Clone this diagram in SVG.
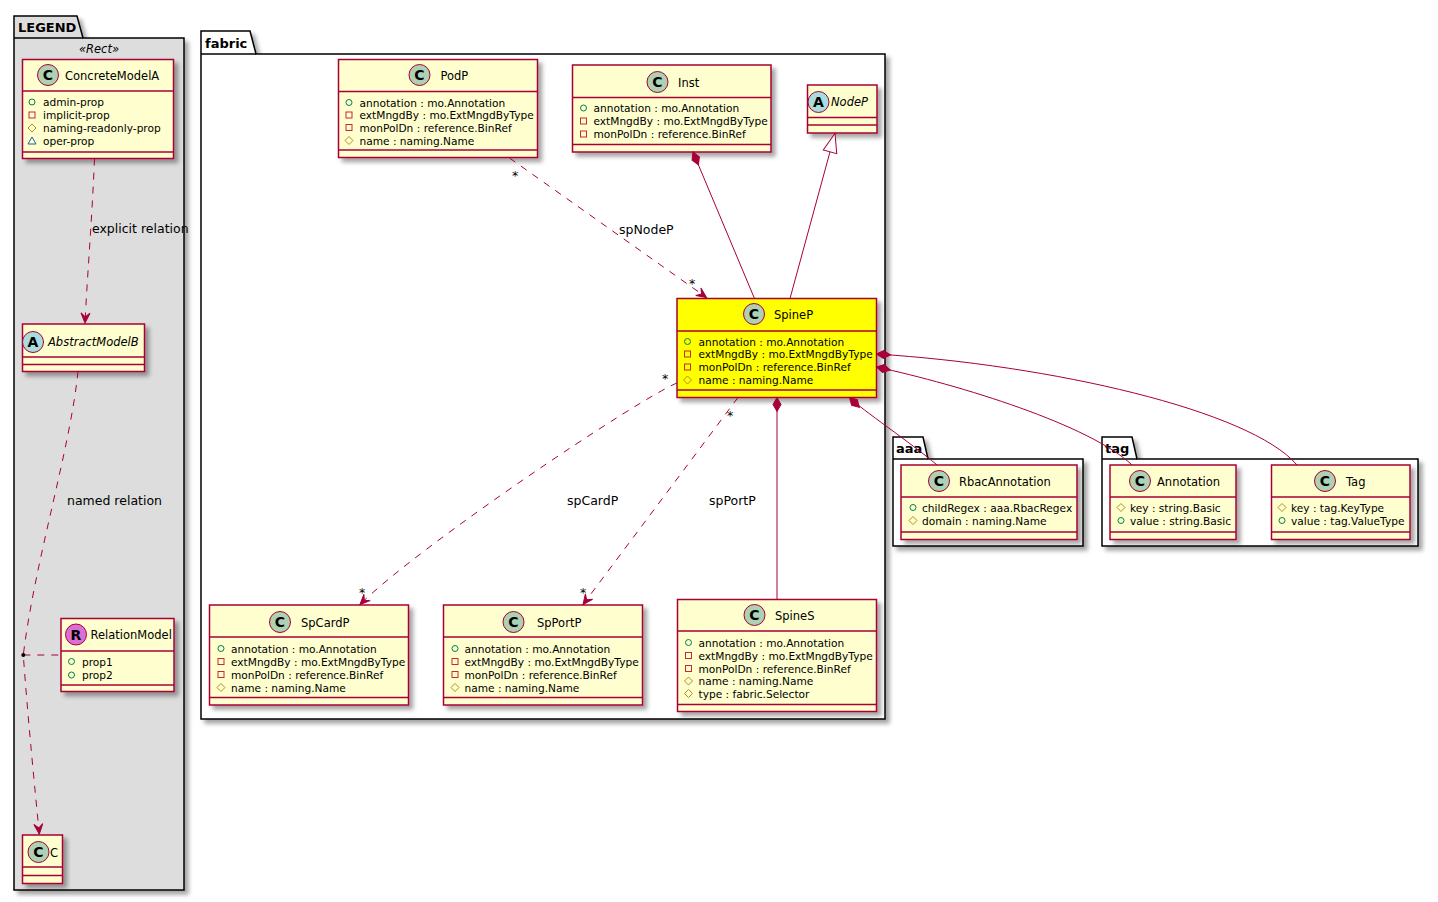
<svg xmlns="http://www.w3.org/2000/svg" xmlns:xlink="http://www.w3.org/1999/xlink" width="1438" height="902" viewBox="0 0 1438 902">
<defs>
<style>
text{font-family:"DejaVu Sans","Liberation Sans",sans-serif;fill:#000}
.box{fill:#FEFECE;stroke:#A80036;stroke-width:1.5}
.hl{fill:#FFFF00}
.sep{stroke:#A80036;stroke-width:1.5}
.spC{fill:#ADD1B2;stroke:#A80036;stroke-width:1}
.spA{fill:#A9DCDF;stroke:#A80036;stroke-width:1}
.spR{fill:#DA70D6;stroke:#A80036;stroke-width:1}
.spot{font-weight:bold;font-size:14px;text-anchor:middle}
.n{font-size:11.5px}
.i{font-style:italic}
.a{font-size:10.6px}
.lbl{font-size:12.5px}
.star{font-size:12.5px;text-anchor:middle}
.pk{font-weight:bold;font-size:13px}
.pkg{fill:#FFFFFF;stroke:#000;stroke-width:1.5}
.lg{fill:#DDDDDD}
.ln{fill:none;stroke:#A80036;stroke-width:1}
.d{stroke-dasharray:7,7}
</style>
<filter id="sh" x="-10%" y="-10%" width="130%" height="130%">
<feDropShadow dx="4" dy="4" stdDeviation="2" flood-color="#000" flood-opacity="0.35"/>
</filter>
<g id="pub"><circle r="3" fill="none" stroke="#038048" stroke-width="1"/></g>
<g id="priv"><rect x="-3" y="-3" width="6" height="6" fill="none" stroke="#C82930" stroke-width="1"/></g>
<g id="prot"><polygon points="0,-4 4,0 0,4 -4,0" fill="none" stroke="#B38D22" stroke-width="1"/></g>
<g id="pkgv"><polygon points="0,-4 4,3 -4,3" fill="none" stroke="#1963A0" stroke-width="1"/></g>
<marker id="arr" markerUnits="userSpaceOnUse" orient="auto" overflow="visible" refX="0" refY="0" markerWidth="12" markerHeight="12">
<path d="M0,0 L-10,-4.5 L-6,0 L-10,4.5 Z" fill="#A80036" stroke="#A80036" stroke-width="1" stroke-linejoin="miter"/>
</marker>
<marker id="dia" markerUnits="userSpaceOnUse" orient="auto" overflow="visible" refX="0" refY="0" markerWidth="16" markerHeight="10">
<path d="M0,0 L7,-4 L14,0 L7,4 Z" fill="#A80036" stroke="#A80036" stroke-width="1"/>
</marker>
<marker id="tri" markerUnits="userSpaceOnUse" orient="auto" overflow="visible" refX="0" refY="0" markerWidth="20" markerHeight="16">
<path d="M0,0 L-19,-7 L-19,7 Z" fill="#FFFFFF" stroke="#A80036" stroke-width="1"/>
</marker>
</defs>
<rect x="0" y="0" width="1438" height="902" fill="#FFFFFF"/>

<!-- packages -->
<g id="pkg-LEGEND">
<path class="pkg lg" d="M14,16 L77,16 L83,38 L184,38 L184,890 L14,890 Z" filter="url(#sh)"/>
<path class="pkg" fill="none" d="M14,38 L83,38" style="fill:none"/>
<text class="pk" x="18" y="32">LEGEND</text>
<text class="n i" x="99" y="53" text-anchor="middle">«Rect»</text>
</g>
<g id="pkg-fabric">
<path class="pkg" d="M201,31 L250,31 L256,54 L885,54 L885,719 L201,719 Z" filter="url(#sh)"/>
<path class="pkg" d="M201,54 L256,54" style="fill:none"/>
<text class="pk" x="205" y="48">fabric</text>
</g>
<g id="pkg-aaa">
<path class="pkg" d="M893,437 L923,437 L928,459 L1083,459 L1083,546 L893,546 Z" filter="url(#sh)"/>
<path class="pkg" d="M893,459 L928,459" style="fill:none"/>
<text class="pk" x="896" y="453">aaa</text>
</g>
<g id="pkg-tag">
<path class="pkg" d="M1102,437 L1132,437 L1137,459 L1418,459 L1418,546 L1102,546 Z" filter="url(#sh)"/>
<path class="pkg" d="M1102,459 L1137,459" style="fill:none"/>
<text class="pk" x="1105" y="453">tag</text>
</g>

<!-- legend classes -->
<g id="ConcreteModelA">
<rect class="box" x="22.5" y="59.5" width="151" height="99" filter="url(#sh)"/>
<line class="sep" x1="22.5" y1="91" x2="173.5" y2="91"/>
<line class="sep" x1="22.5" y1="152" x2="173.5" y2="152"/>
<circle class="spC" cx="48" cy="75" r="10.5"/>
<text class="spot" x="48" y="80">C</text>
<text class="n" x="65" y="79.5">ConcreteModelA</text>
<use href="#pub" x="32" y="102"/><text class="a" x="43" y="106">admin-prop</text>
<use href="#priv" x="32" y="115"/><text class="a" x="43" y="119">implicit-prop</text>
<use href="#prot" x="32" y="128"/><text class="a" x="43" y="132">naming-readonly-prop</text>
<use href="#pkgv" x="32" y="141"/><text class="a" x="43" y="145">oper-prop</text>
</g>
<g id="AbstractModelB">
<rect class="box" x="22.5" y="324" width="122" height="47.5" filter="url(#sh)"/>
<line class="sep" x1="22.5" y1="357" x2="144.5" y2="357"/>
<line class="sep" x1="22.5" y1="364.5" x2="144.5" y2="364.5"/>
<circle class="spA" cx="33" cy="342" r="10.5"/>
<text class="spot" x="33" y="347">A</text>
<text class="n i" x="48" y="346">AbstractModelB</text>
</g>
<g id="RelationModel">
<rect class="box" x="61" y="618.5" width="113" height="73" filter="url(#sh)"/>
<line class="sep" x1="61" y1="651" x2="174" y2="651"/>
<line class="sep" x1="61" y1="685" x2="174" y2="685"/>
<circle class="spR" cx="76" cy="634.5" r="10.5"/>
<text class="spot" x="76" y="639.5">R</text>
<text class="n" x="90.5" y="638.5">RelationModel</text>
<use href="#pub" x="71.5" y="661.5"/><text class="a" x="82" y="665.5">prop1</text>
<use href="#pub" x="71.5" y="675"/><text class="a" x="82" y="679">prop2</text>
</g>
<g id="C">
<rect class="box" x="22.5" y="835" width="40" height="48.5" filter="url(#sh)"/>
<line class="sep" x1="22.5" y1="867" x2="62.5" y2="867"/>
<line class="sep" x1="22.5" y1="875.5" x2="62.5" y2="875.5"/>
<circle class="spC" cx="38.5" cy="852" r="10.5"/>
<text class="spot" x="38.5" y="857">C</text>
<text class="n" x="50" y="856.5">C</text>
</g>

<!-- fabric classes -->
<g id="PodP">
<rect class="box" x="338.5" y="59.5" width="199" height="98" filter="url(#sh)"/>
<line class="sep" x1="338.5" y1="91.5" x2="537.5" y2="91.5"/>
<line class="sep" x1="338.5" y1="150" x2="537.5" y2="150"/>
<circle class="spC" cx="419.5" cy="75" r="10.5"/>
<text class="spot" x="419.5" y="80">C</text>
<text class="n" x="440.5" y="79.5">PodP</text>
<use href="#pub" x="349" y="102.5"/><text class="a" x="359.5" y="106.5">annotation : mo.Annotation</text>
<use href="#priv" x="349" y="115"/><text class="a" x="359.5" y="119">extMngdBy : mo.ExtMngdByType</text>
<use href="#priv" x="349" y="127.5"/><text class="a" x="359.5" y="131.5">monPolDn : reference.BinRef</text>
<use href="#prot" x="349" y="140.5"/><text class="a" x="359.5" y="144.5">name : naming.Name</text>
</g>
<g id="Inst">
<rect class="box" x="572.5" y="65" width="198.5" height="87" filter="url(#sh)"/>
<line class="sep" x1="572.5" y1="97.5" x2="771" y2="97.5"/>
<line class="sep" x1="572.5" y1="144.5" x2="771" y2="144.5"/>
<circle class="spC" cx="657.5" cy="82" r="10.5"/>
<text class="spot" x="657.5" y="87">C</text>
<text class="n" x="678" y="86.5">Inst</text>
<use href="#pub" x="583.5" y="108"/><text class="a" x="593.5" y="112">annotation : mo.Annotation</text>
<use href="#priv" x="583.5" y="121"/><text class="a" x="593.5" y="125">extMngdBy : mo.ExtMngdByType</text>
<use href="#priv" x="583.5" y="134"/><text class="a" x="593.5" y="138">monPolDn : reference.BinRef</text>
</g>
<g id="NodeP">
<rect class="box" x="807.5" y="85" width="69.5" height="48" filter="url(#sh)"/>
<line class="sep" x1="807.5" y1="117.5" x2="877" y2="117.5"/>
<line class="sep" x1="807.5" y1="125" x2="877" y2="125"/>
<circle class="spA" cx="818.5" cy="102" r="10.5"/>
<text class="spot" x="818.5" y="107">A</text>
<text class="n i" x="831" y="106">NodeP</text>
</g>
<g id="SpineP">
<rect class="box hl" x="677" y="298.5" width="199.5" height="99" filter="url(#sh)"/>
<line class="sep" x1="677" y1="331" x2="876.5" y2="331"/>
<line class="sep" x1="677" y1="390" x2="876.5" y2="390"/>
<circle class="spC" cx="754" cy="314" r="10.5"/>
<text class="spot" x="754" y="319">C</text>
<text class="n" x="774" y="318.5">SpineP</text>
<use href="#pub" x="687.5" y="341.5"/><text class="a" x="698.5" y="345.5">annotation : mo.Annotation</text>
<use href="#priv" x="687.5" y="354"/><text class="a" x="698.5" y="358">extMngdBy : mo.ExtMngdByType</text>
<use href="#priv" x="687.5" y="367"/><text class="a" x="698.5" y="371">monPolDn : reference.BinRef</text>
<use href="#prot" x="687.5" y="380"/><text class="a" x="698.5" y="384">name : naming.Name</text>
</g>
<g id="SpCardP">
<rect class="box" x="209.5" y="605" width="199" height="100" filter="url(#sh)"/>
<line class="sep" x1="209.5" y1="637" x2="408.5" y2="637"/>
<line class="sep" x1="209.5" y1="697.5" x2="408.5" y2="697.5"/>
<circle class="spC" cx="280" cy="622" r="10.5"/>
<text class="spot" x="280" y="627">C</text>
<text class="n" x="301" y="626.5">SpCardP</text>
<use href="#pub" x="221" y="648.5"/><text class="a" x="231" y="652.5">annotation : mo.Annotation</text>
<use href="#priv" x="221" y="661.5"/><text class="a" x="231" y="665.5">extMngdBy : mo.ExtMngdByType</text>
<use href="#priv" x="221" y="674.5"/><text class="a" x="231" y="678.5">monPolDn : reference.BinRef</text>
<use href="#prot" x="221" y="687.5"/><text class="a" x="231" y="691.5">name : naming.Name</text>
</g>
<g id="SpPortP">
<rect class="box" x="443.5" y="605" width="199" height="100" filter="url(#sh)"/>
<line class="sep" x1="443.5" y1="637" x2="642.5" y2="637"/>
<line class="sep" x1="443.5" y1="697.5" x2="642.5" y2="697.5"/>
<circle class="spC" cx="513.5" cy="622" r="10.5"/>
<text class="spot" x="513.5" y="627">C</text>
<text class="n" x="537" y="626.5">SpPortP</text>
<use href="#pub" x="455" y="648.5"/><text class="a" x="464.5" y="652.5">annotation : mo.Annotation</text>
<use href="#priv" x="455" y="661.5"/><text class="a" x="464.5" y="665.5">extMngdBy : mo.ExtMngdByType</text>
<use href="#priv" x="455" y="674.5"/><text class="a" x="464.5" y="678.5">monPolDn : reference.BinRef</text>
<use href="#prot" x="455" y="687.5"/><text class="a" x="464.5" y="691.5">name : naming.Name</text>
</g>
<g id="SpineS">
<rect class="box" x="677.5" y="599.5" width="199" height="112" filter="url(#sh)"/>
<line class="sep" x1="677.5" y1="631" x2="876.5" y2="631"/>
<line class="sep" x1="677.5" y1="704.5" x2="876.5" y2="704.5"/>
<circle class="spC" cx="754.5" cy="615" r="10.5"/>
<text class="spot" x="754.5" y="620">C</text>
<text class="n" x="775" y="619.5">SpineS</text>
<use href="#pub" x="688.5" y="642.5"/><text class="a" x="698.5" y="646.5">annotation : mo.Annotation</text>
<use href="#priv" x="688.5" y="655.5"/><text class="a" x="698.5" y="659.5">extMngdBy : mo.ExtMngdByType</text>
<use href="#priv" x="688.5" y="668.5"/><text class="a" x="698.5" y="672.5">monPolDn : reference.BinRef</text>
<use href="#prot" x="688.5" y="681"/><text class="a" x="698.5" y="685">name : naming.Name</text>
<use href="#prot" x="688.5" y="693.5"/><text class="a" x="698.5" y="697.5">type : fabric.Selector</text>
</g>

<!-- aaa / tag classes -->
<g id="RbacAnnotation">
<rect class="box" x="901" y="465" width="176" height="74.5" filter="url(#sh)"/>
<line class="sep" x1="901" y1="497" x2="1077" y2="497"/>
<line class="sep" x1="901" y1="532" x2="1077" y2="532"/>
<circle class="spC" cx="939" cy="481" r="10.5"/>
<text class="spot" x="939" y="486">C</text>
<text class="n" x="959" y="485.5">RbacAnnotation</text>
<use href="#pub" x="913" y="507.5"/><text class="a" x="922" y="511.5">childRegex : aaa.RbacRegex</text>
<use href="#prot" x="913" y="520.5"/><text class="a" x="922" y="524.5">domain : naming.Name</text>
</g>
<g id="Annotation">
<rect class="box" x="1110" y="465" width="126" height="74.5" filter="url(#sh)"/>
<line class="sep" x1="1110" y1="497" x2="1236" y2="497"/>
<line class="sep" x1="1110" y1="532" x2="1236" y2="532"/>
<circle class="spC" cx="1140" cy="481" r="10.5"/>
<text class="spot" x="1140" y="486">C</text>
<text class="n" x="1157" y="485.5">Annotation</text>
<use href="#prot" x="1121" y="507.5"/><text class="a" x="1130" y="511.5">key : string.Basic</text>
<use href="#pub" x="1121" y="520.5"/><text class="a" x="1130" y="524.5">value : string.Basic</text>
</g>
<g id="Tag">
<rect class="box" x="1271.5" y="465" width="138.5" height="74.5" filter="url(#sh)"/>
<line class="sep" x1="1271.5" y1="497" x2="1410" y2="497"/>
<line class="sep" x1="1271.5" y1="532" x2="1410" y2="532"/>
<circle class="spC" cx="1325" cy="481" r="10.5"/>
<text class="spot" x="1325" y="486">C</text>
<text class="n" x="1346" y="485.5">Tag</text>
<use href="#prot" x="1282" y="507.5"/><text class="a" x="1291" y="511.5">key : tag.KeyType</text>
<use href="#pub" x="1282" y="520.5"/><text class="a" x="1291" y="524.5">value : tag.ValueType</text>
</g>

<!-- connectors -->
<g id="connectors">
<path class="ln d" d="M94.5,158.5 C92,220 87,280 85,323" marker-end="url(#arr)"/>
<text class="lbl" x="92" y="233">explicit relation</text>
<path class="ln d" d="M78,371.5 C70,450 35,560 23.3,655 C28,720 35,790 39.3,834" marker-end="url(#arr)"/>
<text class="lbl" x="67" y="505">named relation</text>
<path class="ln d" d="M23.3,655 L61,655"/>
<circle cx="23.3" cy="655" r="2" fill="#000"/>

<path class="ln d" d="M509.5,158 L706.5,297.5" marker-end="url(#arr)"/>
<text class="star" x="515" y="180">*</text>
<text class="star" x="692" y="287.5">*</text>
<text class="lbl" x="619" y="234">spNodeP</text>

<path class="ln" d="M693,152 L754.5,298.5" marker-start="url(#dia)"/>
<path class="ln" d="M790,298.5 L835,133.5" marker-end="url(#tri)"/>

<path class="ln d" d="M677,383 C640,398 420,545 360,604.5" marker-end="url(#arr)"/>
<text class="star" x="665" y="383">*</text>
<text class="star" x="362" y="597">*</text>
<text class="lbl" x="567" y="505">spCardP</text>

<path class="ln d" d="M738,397.5 L583,604.5" marker-end="url(#arr)"/>
<text class="star" x="730" y="419.5">*</text>
<text class="star" x="583" y="596.5">*</text>
<text class="lbl" x="709" y="505">spPortP</text>

<path class="ln" d="M777,397.5 L777,599.5" marker-start="url(#dia)"/>
<path class="ln" d="M849.5,397.5 C862,410 910,442 937,465" marker-start="url(#dia)"/>
<path class="ln" d="M876.5,367 C960,385 1090,425 1132,465" marker-start="url(#dia)"/>
<path class="ln" d="M876.5,354 C1050,365 1250,410 1297,465" marker-start="url(#dia)"/>
</g>
</svg>
